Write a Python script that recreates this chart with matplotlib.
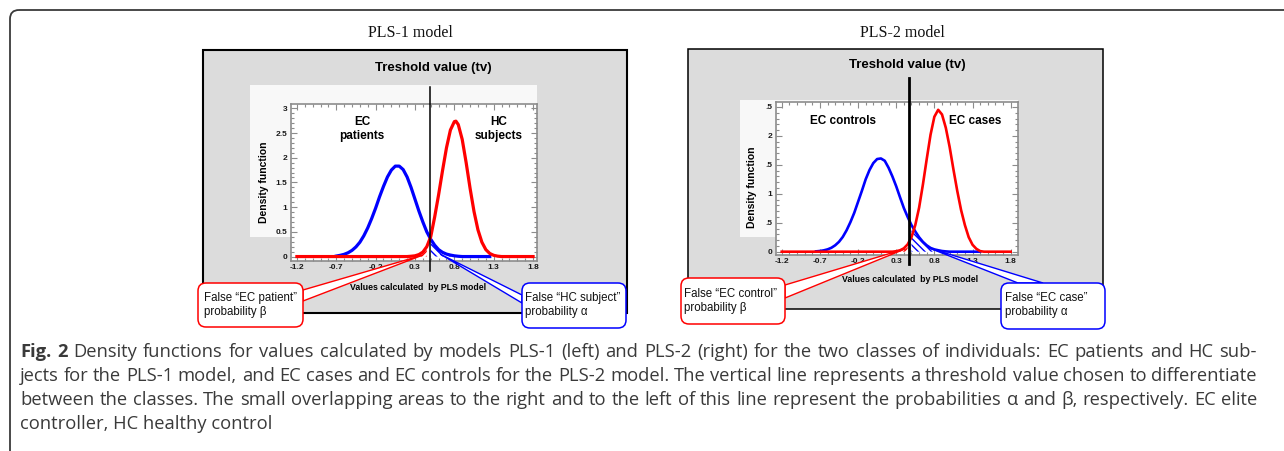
import numpy as np
import matplotlib
matplotlib.use("Agg")
import matplotlib.pyplot as plt
from matplotlib.patches import Rectangle, FancyBboxPatch, Polygon
from matplotlib.transforms import Affine2D, blended_transform_factory
from matplotlib.ticker import MultipleLocator

W, H = 1284, 451

# ---- data ---------------------------------------------------------------
XTICKS = [-1.2, -0.7, -0.2, 0.3, 0.8, 1.3, 1.8]
XTICK_LABELS = ["-1.2", "-0.7", "-0.2", "0.3", "0.8", "1.3", "1.8"]

# PLS-1: EC patients (blue), HC subjects (red)
pls1_tv = 0.495
pls1_yticks = [0, 0.5, 1, 1.5, 2, 2.5, 3]
pls1_ytick_labels = ["0", "0.5", "1", "1.5", "2", "2.5", "3"]
pls1_blue_x = [-0.70, -0.65, -0.60, -0.55, -0.50, -0.45, -0.40, -0.35, -0.30, -0.25,
               -0.20, -0.15, -0.10, -0.05, 0.00, 0.05, 0.10, 0.15, 0.20, 0.25,
               0.30, 0.35, 0.40, 0.45, 0.50, 0.55, 0.60, 0.65, 0.70, 0.75,
               0.80, 0.85, 0.90, 1.25]
pls1_blue_y = [0.01, 0.025, 0.045, 0.077, 0.125, 0.195, 0.29, 0.42, 0.58, 0.77,
               0.98, 1.21, 1.42, 1.61, 1.75, 1.83, 1.83, 1.76, 1.61, 1.40,
               1.16, 0.92, 0.70, 0.50, 0.35, 0.23, 0.14, 0.085, 0.05, 0.03,
               0.015, 0.006, 0.0, 0.0]
pls1_red_x = [-1.20, 0.20, 0.25, 0.30, 0.35, 0.40, 0.45, 0.50, 0.55, 0.60, 0.65,
              0.70, 0.75, 0.80, 0.82, 0.85, 0.90, 0.95, 1.00, 1.05, 1.10,
              1.15, 1.20, 1.25, 1.30, 1.35, 1.40, 1.80]
pls1_red_y = [0.0, 0.0, 0.006, 0.015, 0.04, 0.09, 0.20, 0.40, 0.80, 1.25, 1.74,
              2.20, 2.56, 2.73, 2.74, 2.67, 2.37, 1.90, 1.38, 0.91, 0.54,
              0.29, 0.14, 0.062, 0.025, 0.008, 0.0, 0.0]

# PLS-2: EC controls (blue), EC cases (red)
pls2_tv = 0.47
pls2_yticks = [0, 0.5, 1, 1.5, 2, 2.5]
pls2_ytick_labels = ["0", ".5", "1", ".5", "2", ".5"]
pls2_blue_x = [-0.75, -0.70, -0.65, -0.60, -0.55, -0.50, -0.45, -0.40, -0.35, -0.30,
               -0.25, -0.20, -0.15, -0.10, -0.05, 0.00, 0.05, 0.10, 0.15, 0.20,
               0.25, 0.30, 0.35, 0.40, 0.45, 0.50, 0.55, 0.60, 0.65, 0.70,
               0.75, 0.80, 0.85, 0.90, 0.95, 1.00, 1.40]
pls2_blue_y = [0.006, 0.012, 0.023, 0.04, 0.067, 0.11, 0.17, 0.255, 0.37, 0.51,
               0.67, 0.86, 1.05, 1.25, 1.41, 1.53, 1.60, 1.61, 1.57, 1.45,
               1.30, 1.13, 0.94, 0.755, 0.60, 0.46, 0.35, 0.25, 0.17, 0.11,
               0.065, 0.04, 0.025, 0.012, 0.005, 0.0, 0.0]
pls2_red_x = [-1.20, 0.25, 0.30, 0.35, 0.40, 0.45, 0.50, 0.55, 0.60, 0.65, 0.70,
              0.75, 0.80, 0.85, 0.90, 0.95, 1.00, 1.05, 1.10, 1.15, 1.20,
              1.25, 1.30, 1.35, 1.40, 1.45, 1.80]
pls2_red_y = [0.0, 0.0, 0.008, 0.024, 0.058, 0.126, 0.25, 0.46, 0.76, 1.16, 1.60,
              2.02, 2.33, 2.45, 2.37, 2.14, 1.81, 1.42, 1.05, 0.72, 0.46,
              0.25, 0.12, 0.05, 0.01, 0.0, 0.0]

CAPTION = [
    "Density functions for values calculated by models PLS-1 (left) and PLS-2 (right) for the two classes of individuals: EC patients and HC sub-",
    "jects for the PLS-1 model, and EC cases and EC controls for the PLS-2 model. The vertical line represents a threshold value chosen to differentiate",
    "between the classes. The small overlapping areas to the right and to the left of this line represent the probabilities \u03b1 and \u03b2, respectively. EC elite",
    "controller, HC healthy control",
]

SANS = "Liberation Sans"

fig = plt.figure(figsize=(W / 100, H / 100), dpi=100)
# pixel coords measured from the top-left corner of the picture
px = Affine2D().scale(1 / W, -1 / H).translate(0, 1) + fig.transFigure


def px_axes(x0, y0, x1, y1):
    return fig.add_axes([x0 / W, 1 - y1 / H, (x1 - x0) / W, (y1 - y0) / H])


def to_px(ax, xy):
    return px.inverted().transform(ax.transData.transform(xy))


def callout(ax, tip, base, box, text, color, text_xy):
    tx, ty = to_px(ax, tip)
    fig.add_artist(Polygon([base[0], (tx, ty), base[1]], closed=True, transform=px,
                           fc="white", ec=color, lw=1.0, zorder=4))
    x0, y0, x1, y1 = box
    fig.add_artist(FancyBboxPatch((x0, y0), x1 - x0, y1 - y0, transform=px,
                                  boxstyle="round,pad=0,rounding_size=8",
                                  fc="white", ec=color, lw=1.1, zorder=5))
    fig.text(text_xy[0], text_xy[1], text, transform=px, ha="left", va="center",
             fontsize=8.3, family=SANS, color="#111111", linespacing=1.2, zorder=6)


def panel(p):
    # grey frame and lighter plotting zone
    x0, y0, x1, y1 = p["frame"]
    fig.add_artist(Rectangle((x0, y0), x1 - x0, y1 - y0, transform=px, fc="#dcdcdc",
                             ec="black", lw=p["frame_lw"], zorder=-4))
    x0, y0, x1, y1 = p["white"]
    fig.add_artist(Rectangle((x0, y0), x1 - x0, y1 - y0, transform=px, fc="#f8f8f8",
                             ec="none", zorder=-3))
    fig.text(p["title_xy"][0], p["title_xy"][1], p["title"], transform=px, ha="center",
             va="center", fontsize=11.5, family="Liberation Serif", color="#111111")
    fig.text(p["tv_xy"][0], p["tv_xy"][1], "Treshold value (tv)", transform=px,
             ha="center", va="center", fontsize=9.5, fontweight="bold", family=SANS)

    ax = px_axes(*p["axes"])
    ax.set_xlim(*p["xlim"])
    ax.set_ylim(*p["ylim"])
    bx, by = np.array(p["blue"][0]), np.array(p["blue"][1])
    rx, ry = np.array(p["red"][0]), np.array(p["red"][1])
    tv = p["tv"]
    ax.fill_between(bx, 0, by, where=bx >= tv, interpolate=True, fc="none", ec="blue",
                    hatch="\\\\\\\\\\", lw=0, zorder=1)
    ax.fill_between(rx, 0, ry, where=rx <= tv, interpolate=True, fc="none", ec="red",
                    hatch="//////", lw=0, zorder=1)
    ax.plot(bx, by, color="#0000ff", lw=p["curve_lw"], zorder=2)
    ax.plot(rx, ry, color="#ff0000", lw=p["curve_lw"], zorder=3)
    ax.plot([tv, tv], p["tv_span"], transform=blended_transform_factory(ax.transData, px),
            color="black", lw=p["tv_lw"], clip_on=False, zorder=5)

    ax.set_xticks(XTICKS, XTICK_LABELS, fontsize=6, fontweight="bold", family=SANS)
    ax.set_yticks(p["yticks"], p["ytick_labels"], fontsize=6, fontweight="bold", family=SANS)
    ax.xaxis.set_minor_locator(MultipleLocator(0.1))
    ax.yaxis.set_minor_locator(MultipleLocator(0.1))
    ax.tick_params(which="both", direction="in", top=True, right=True, color="#8c8c8c",
                   width=0.8, pad=2.5, labelcolor="#1a1a1a")
    ax.tick_params(which="major", length=4)
    ax.tick_params(which="minor", length=2)
    for s in ax.spines.values():
        s.set_color("#8c8c8c")
        s.set_linewidth(1.2)

    ax.set_xlabel("Values calculated  by PLS model", fontsize=6.3, fontweight="bold",
                  family=SANS)
    ax.xaxis.set_label_coords(*p["xlabel_xy"])
    ax.xaxis.label.set_verticalalignment("center")
    ax.set_ylabel("Density function", fontsize=7.5, fontweight="bold", family=SANS)
    ax.yaxis.set_label_coords(*p["ylabel_xy"])
    ax.yaxis.label.set_verticalalignment("center")

    for (tx, ty), s in p["labels"]:
        ax.text(tx, ty, s, transform=ax.transAxes, ha="center", va="center", fontsize=8.5,
                fontweight="bold", family=SANS, linespacing=1.15)
    return ax


ax1 = panel(dict(
    frame=(203, 50, 627, 313), frame_lw=1.5, white=(250, 85, 537, 237),
    title="PLS-1 model", title_xy=(410, 33), tv_xy=(433, 68),
    axes=(291, 104, 537, 261), xlim=(-1.275, 1.85), ylim=(-0.09, 3.087),
    blue=(pls1_blue_x, pls1_blue_y), red=(pls1_red_x, pls1_red_y),
    tv=pls1_tv, tv_span=(87, 271), tv_lw=1.1, curve_lw=2.3,
    yticks=pls1_yticks, ytick_labels=pls1_ytick_labels,
    xlabel_xy=(0.516, -0.166), ylabel_xy=(-0.11, 0.503),
    labels=[((0.289, 0.84), "EC\npatients"), ((0.846, 0.84), "HC\nsubjects")],
))
callout(ax1, (0.40, 0.03), [(303, 290), (303, 301)], (198, 283, 303, 327),
        "False \u201cEC patient\u201d\nprobability \u03b2", "red", (204, 305))
callout(ax1, (0.62, 0.05), [(522, 295), (522, 303)], (522, 283, 626, 328),
        "False \u201cHC subject\u201d\nprobability \u03b1", "blue", (525, 305))

ax2 = panel(dict(
    frame=(688, 49, 1103, 309), frame_lw=1.1, white=(740, 100, 1018, 237),
    title="PLS-2 model", title_xy=(902, 33), tv_xy=(907, 65),
    axes=(776, 102, 1018, 255), xlim=(-1.275, 1.896), ylim=(-0.057, 2.585),
    blue=(pls2_blue_x, pls2_blue_y), red=(pls2_red_x, pls2_red_y),
    tv=pls2_tv, tv_span=(78, 264), tv_lw=2.0, curve_lw=1.9,
    yticks=pls2_yticks, ytick_labels=pls2_ytick_labels,
    xlabel_xy=(0.554, -0.163), ylabel_xy=(-0.099, 0.444),
    labels=[((0.276, 0.878), "EC controls"), ((0.825, 0.878), "EC cases")],
))
callout(ax2, (0.42, 0.05), [(785, 285), (785, 298)], (681, 278, 785, 324),
        "False \u201cEC control\u201d\nprobability \u03b2", "red", (684, 301))
callout(ax2, (0.74, 0.06), [(1018, 283), (1043, 283)], (1001, 283, 1105, 329),
        "False \u201cEC case\u201d\nprobability \u03b1", "blue", (1005, 305))

# outer frame with rounded top-left corner
fig.add_artist(FancyBboxPatch((10, 10), 1400, 600, transform=px,
                              boxstyle="round,pad=0,rounding_size=9",
                              fc="none", ec="#3a3a3a", lw=1.3, zorder=-5))

# justified caption
renderer = fig.canvas.get_renderer()
CAP_KW = dict(transform=px, fontsize=13.2, family="Open Sans", color="#3a3a3a",
              va="baseline")


def caption_line(words, y, x0, x1):
    items = [fig.text(0, y, w, fontweight=("bold" if b else "normal"), **CAP_KW)
             for w, b in words]
    widths = [t.get_window_extent(renderer).width for t in items]
    gap = max((x1 - x0 - sum(widths)) / (len(items) - 1), 2.0)
    x = x0
    for t, wd in zip(items, widths):
        t.set_x(x)
        x += wd + gap


baselines = [357, 381, 405, 429]
for i, line in enumerate(CAPTION[:3]):
    words = [(w, False) for w in line.split()]
    if i == 0:
        words = [("Fig.", True), ("2", True)] + words
    caption_line(words, baselines[i], 20, 1257)
fig.text(20, baselines[3], CAPTION[3], **CAP_KW)

fig.savefig("out.png", dpi=100)
